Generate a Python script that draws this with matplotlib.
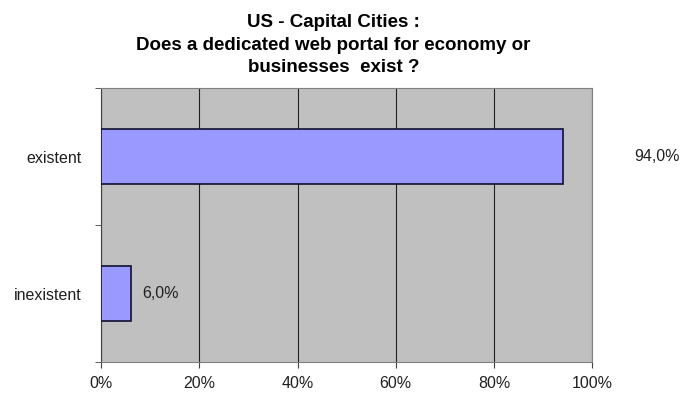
import numpy as np
import matplotlib
matplotlib.use("Agg")
import matplotlib.pyplot as plt
from matplotlib.ticker import FuncFormatter

plt.rcParams['font.family'] = ['Liberation Sans', 'DejaVu Sans']

categories = ['inexistent', 'existent']
shares = [6.0, 94.0]
label_offsets = [12, 72]  # pixels between bar end and its value label

fig = plt.figure(figsize=(6.83, 3.94), dpi=100)
ax = fig.add_axes([0.148, 0.081, 0.719, 0.695])
ax.set_facecolor('#C0C0C0')

y = np.arange(len(categories))
ax.barh(y, shares, height=0.4, color='#9999FF', edgecolor='#101030', linewidth=1.2, zorder=3)

for yi, v, off in zip(y, shares, label_offsets):
    ax.annotate(f"{v:.1f}%".replace('.', ','), xy=(v, yi), xytext=(off, 0),
                textcoords='offset pixels', va='center', ha='left',
                fontsize=11.5, color='#202020', annotation_clip=False)

ax.set_xlim(0, 100)
ax.set_ylim(-0.5, 1.5)
ax.set_xticks([0, 20, 40, 60, 80, 100])
ax.xaxis.set_major_formatter(FuncFormatter(lambda v, p: f"{v:.0f}%"))
ax.set_yticks(y)
ax.set_yticklabels(categories)
ax.set_yticks([-0.5, 0.5, 1.5], minor=True)
ax.tick_params(axis='y', which='minor', length=4, color='#404040')
ax.tick_params(axis='y', which='major', length=0, pad=14, labelsize=11.5, labelcolor='#202020')
ax.tick_params(axis='x', length=4, color='#404040', pad=6, labelsize=11.5, labelcolor='#202020')
ax.grid(axis='x', color='#202020', linewidth=0.8, zorder=1)

ax.set_axisbelow(True)
for side in ['top', 'right', 'bottom']:
    ax.spines[side].set_color('#808080')
ax.spines['left'].set_color('#404040')

fig.text(0.488, 0.965, "US - Capital Cities :\nDoes a dedicated web portal for economy or\nbusinesses  exist ?",
         ha='center', va='top', fontsize=13.5, fontweight='bold', linespacing=1.45)

fig.savefig('out.png', dpi=100)
